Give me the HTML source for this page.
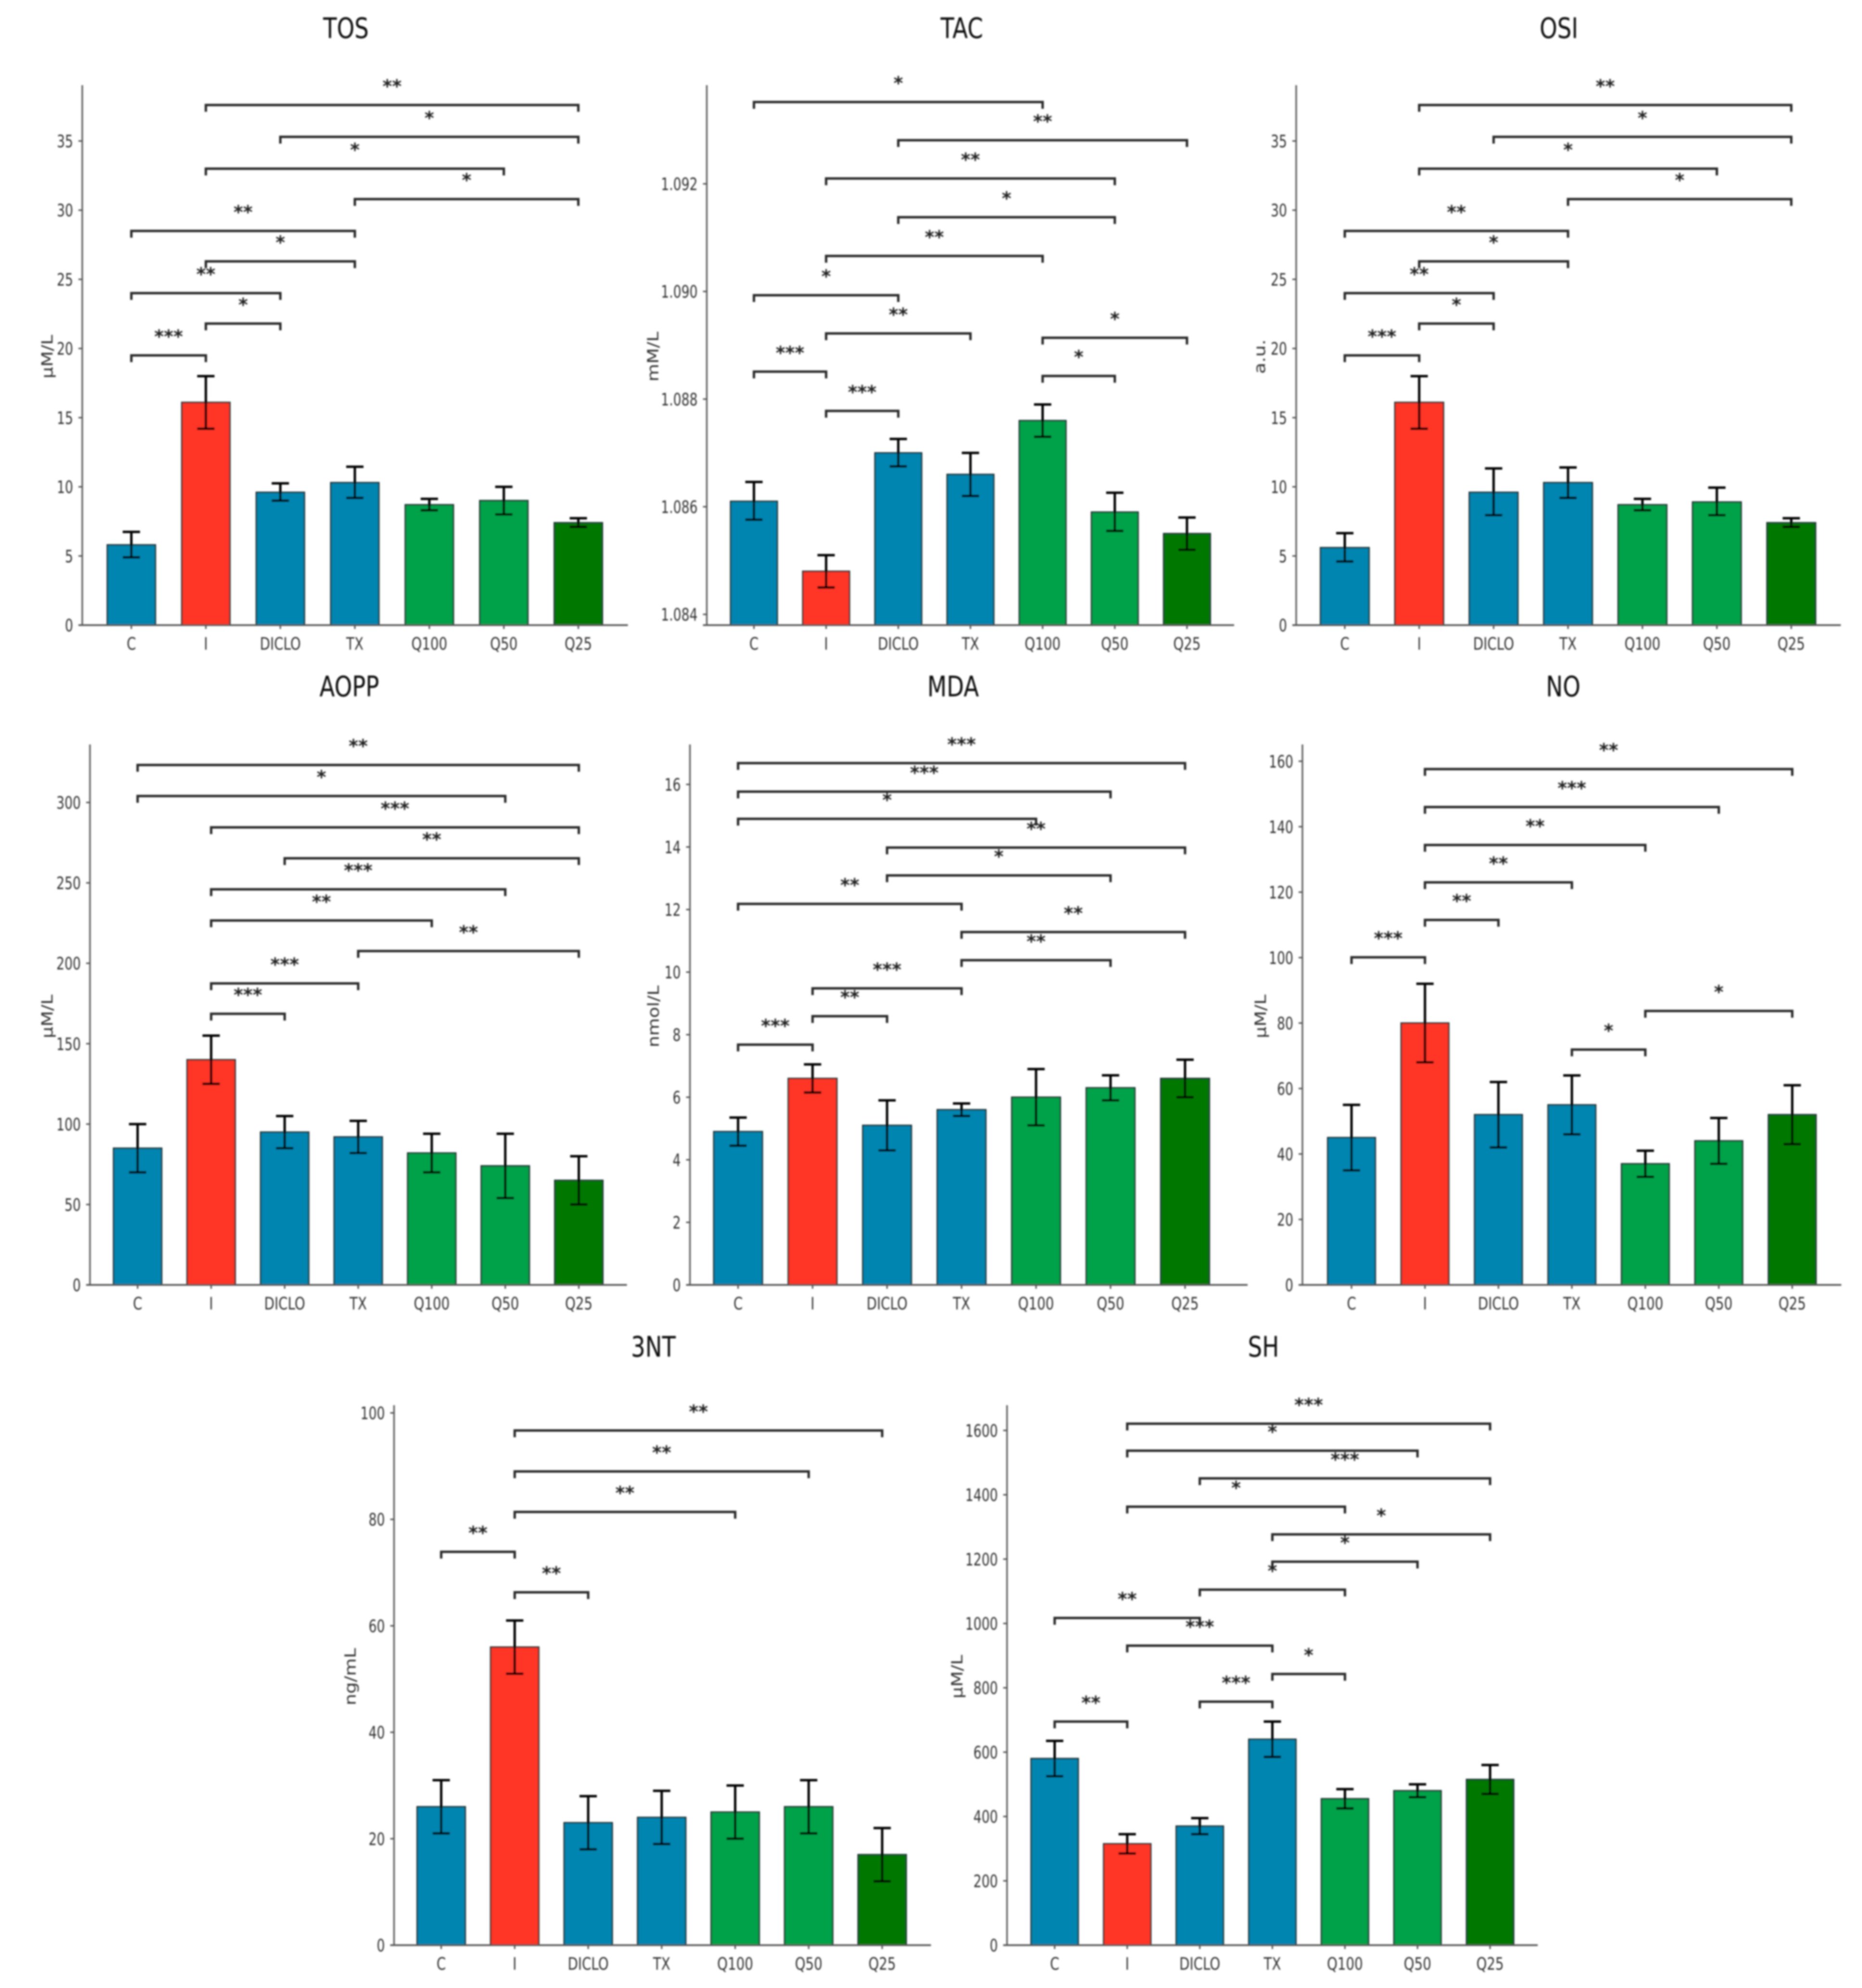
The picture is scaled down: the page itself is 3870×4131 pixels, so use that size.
<!DOCTYPE html>
<html lang="en">
<head>
<meta charset="utf-8">
<title>Oxidative stress markers by treatment group</title>
<style>
html,body{margin:0;padding:0;background:#fff;}
svg{display:block;}
text{font-family:"DejaVu Sans","Liberation Sans",sans-serif;}
</style>
</head>
<body>
<svg id="figure" xmlns="http://www.w3.org/2000/svg" width="3870" height="4131" viewBox="0 0 3870 4131">
  <defs>
    <filter id="soft" filterUnits="userSpaceOnUse" x="0" y="0" width="3870" height="4131">
      <feGaussianBlur stdDeviation="1.5"/>
    </filter>
  </defs>
  <rect x="0" y="0" width="3870" height="4131" fill="#ffffff"/>
  <g filter="url(#soft)">
    <g id="panel-tos">
      <text transform="translate(719,79) scale(.79,1)" text-anchor="middle" font-size="59" fill="#111">TOS</text>
      <text transform="translate(109,741) rotate(-90) scale(1,.85)" text-anchor="middle" font-size="38" fill="#333">µM/L</text>
    </g>
    <g id="panel-tac">
      <text transform="translate(1999,79) scale(.79,1)" text-anchor="middle" font-size="59" fill="#111">TAC</text>
      <text transform="translate(1368,741) rotate(-90) scale(1,.85)" text-anchor="middle" font-size="38" fill="#333">mM/L</text>
    </g>
    <g id="panel-osi">
      <text transform="translate(3240,79) scale(.79,1)" text-anchor="middle" font-size="59" fill="#111">OSI</text>
      <text transform="translate(2629,741) rotate(-90) scale(1,.85)" text-anchor="middle" font-size="38" fill="#333">a.u.</text>
    </g>
    <g id="panel-aopp">
      <text transform="translate(726,1447) scale(.79,1)" text-anchor="middle" font-size="59" fill="#111">AOPP</text>
      <text transform="translate(109,2112) rotate(-90) scale(1,.85)" text-anchor="middle" font-size="38" fill="#333">µM/L</text>
    </g>
    <g id="panel-mda">
      <text transform="translate(1981,1447) scale(.79,1)" text-anchor="middle" font-size="59" fill="#111">MDA</text>
      <text transform="translate(1369,2112) rotate(-90) scale(1,.85)" text-anchor="middle" font-size="38" fill="#333">nmol/L</text>
    </g>
    <g id="panel-no">
      <text transform="translate(3249,1447) scale(.79,1)" text-anchor="middle" font-size="59" fill="#111">NO</text>
      <text transform="translate(2631,2112) rotate(-90) scale(1,.85)" text-anchor="middle" font-size="38" fill="#333">µM/L</text>
    </g>
    <g id="panel-3nt">
      <text transform="translate(1358,2819) scale(.79,1)" text-anchor="middle" font-size="59" fill="#111">3NT</text>
      <text transform="translate(739,3484) rotate(-90) scale(1,.85)" text-anchor="middle" font-size="38" fill="#333">ng/mL</text>
    </g>
    <g id="panel-sh">
      <text transform="translate(2626,2819) scale(.79,1)" text-anchor="middle" font-size="59" fill="#111">SH</text>
      <text transform="translate(2000,3484) rotate(-90) scale(1,.85)" text-anchor="middle" font-size="38" fill="#333">µM/L</text>
    </g>
  </g>
</svg>
<script>
const categories = ['C','I','DICLO','TX','Q100','Q50','Q25'];

const tosValues = [5.8,16.1,9.6,10.3,8.7,9.0,7.4];
const tosUpper  = [6.74,18.0,10.25,11.45,9.13,10.0,7.73];
const tosLower  = [4.9,14.2,9.0,9.2,8.3,8.0,7.1];
const tosTicks  = ['0','5','10','15','20','25','30','35'];
const tosBrackets = [
  ['I','Q25',37.6,'**'],['DICLO','Q25',35.3,'*'],['I','Q50',33.0,'*'],['TX','Q25',30.8,'*'],
  ['C','TX',28.5,'**'],['I','TX',26.3,'*'],['C','DICLO',24.0,'**'],['I','DICLO',21.8,'*'],['C','I',19.5,'***']
];

const tacValues = [1.0861,1.0848,1.0870,1.0866,1.0876,1.0859,1.0855];
const tacUpper  = [1.08646,1.0851,1.08726,1.0870,1.0879,1.08626,1.0858];
const tacLower  = [1.08576,1.0845,1.08675,1.0862,1.0873,1.08555,1.0852];
const tacTicks  = ['1.084','1.086','1.088','1.090','1.092'];
const tacBrackets = [
  ['C','Q100',1.09352,'*'],['DICLO','Q25',1.09281,'**'],['I','Q50',1.0921,'**'],['DICLO','Q50',1.09138,'*'],
  ['I','Q100',1.09066,'**'],['C','DICLO',1.08993,'*'],['I','TX',1.08922,'**'],['Q100','Q25',1.08914,'*'],
  ['C','I',1.08851,'***'],['Q100','Q50',1.08843,'*'],['I','DICLO',1.08778,'***']
];

const osiValues = [5.6,16.1,9.6,10.3,8.7,8.9,7.4];
const osiUpper  = [6.65,18.0,11.33,11.4,9.13,9.94,7.73];
const osiLower  = [4.6,14.2,7.95,9.2,8.3,7.95,7.1];
const osiTicks  = ['0','5','10','15','20','25','30','35'];
const osiBrackets = [
  ['I','Q25',37.6,'**'],['DICLO','Q25',35.3,'*'],['I','Q50',33.0,'*'],['TX','Q25',30.8,'*'],
  ['C','TX',28.5,'**'],['I','TX',26.3,'*'],['C','DICLO',24.0,'**'],['I','DICLO',21.8,'*'],['C','I',19.5,'***']
];

const aoppValues = [85,140,95,92,82,74,65];
const aoppUpper  = [100,155,105,102,94,94,80];
const aoppLower  = [70,125,85,82,70,54,50];
const aoppTicks  = ['0','50','100','150','200','250','300'];
const aoppBrackets = [
  ['C','Q25',323.3,'**'],['C','Q50',304,'*'],['I','Q25',284.5,'***'],['DICLO','Q25',265.3,'**'],
  ['I','Q50',246,'***'],['I','Q100',226.6,'**'],['TX','Q25',207.6,'**'],['I','TX',187.5,'***'],['I','DICLO',168.6,'***']
];

const mdaValues = [4.9,6.6,5.1,5.6,6.0,6.3,6.6];
const mdaUpper  = [5.35,7.05,5.9,5.8,6.9,6.7,7.2];
const mdaLower  = [4.45,6.15,4.3,5.4,5.1,5.9,6.0];
const mdaTicks  = ['0','2','4','6','8','10','12','14','16'];
const mdaBrackets = [
  ['C','Q25',16.68,'***'],['C','Q50',15.77,'***'],['C','Q100',14.9,'*'],['DICLO','Q25',13.98,'**'],
  ['DICLO','Q50',13.09,'*'],['C','TX',12.18,'**'],['TX','Q25',11.28,'**'],['TX','Q50',10.38,'**'],
  ['I','TX',9.48,'***'],['I','DICLO',8.59,'**'],['C','I',7.68,'***']
];

const noValues = [45,80,52,55,37,44,52];
const noUpper  = [55,92,62,64,41,51,61];
const noLower  = [35,68,42,46,33,37,43];
const noTicks  = ['0','20','40','60','80','100','120','140','160'];
const noBrackets = [
  ['I','Q25',157.6,'**'],['I','Q50',146,'***'],['I','Q100',134.4,'**'],['I','TX',123,'**'],
  ['I','DICLO',111.5,'**'],['C','I',100.1,'***'],['Q100','Q25',83.7,'*'],['TX','Q100',71.9,'*']
];

const ntValues = [26,56,23,24,25,26,17];
const ntUpper  = [31,61,28,29,30,31,22];
const ntLower  = [21,51,18,19,20,21,12];
const ntTicks  = ['0','20','40','60','80','100'];
const ntBrackets = [
  ['I','Q25',96.7,'**'],['I','Q50',89,'**'],['I','Q100',81.4,'**'],['C','I',73.9,'**'],['I','DICLO',66.3,'**']
];

const shValues = [580,315,370,640,455,480,515];
const shUpper  = [635,345,395,695,485,500,560];
const shLower  = [525,285,345,585,425,460,470];
const shTicks  = ['0','200','400','600','800','1000','1200','1400','1600'];
const shBrackets = [
  ['I','Q25',1621,'***'],['I','Q50',1537,'*'],['DICLO','Q25',1451,'***'],['I','Q100',1363,'*'],
  ['TX','Q25',1277,'*'],['TX','Q50',1192,'*'],['DICLO','Q100',1105,'*'],['C','DICLO',1017,'**'],
  ['I','TX',931,'***'],['TX','Q100',843,'*'],['DICLO','TX',757,'***'],['C','I',695,'**']
];

const barPalette = ['#0085b0','#ff3527','#0085b0','#0085b0','#00a249','#00a249','#007800'];

const charts = [
  {id:'tos',  values:tosValues,  upper:tosUpper,  lower:tosLower,  ticks:tosTicks,  brackets:tosBrackets,
   left:171,  right:1305, top:177,  base:1299, first:273,  last:1202, barW:100, min:0, refValue:35, refPx:293},
  {id:'tac',  values:tacValues,  upper:tacUpper,  lower:tacLower,  ticks:tacTicks,  brackets:tacBrackets,
   left:1469, right:2565, top:177,  base:1299, first:1567, last:2467, barW:97,  min:1.0838, refValue:1.092, refPx:382},
  {id:'osi',  values:osiValues,  upper:osiUpper,  lower:osiLower,  ticks:osiTicks,  brackets:osiBrackets,
   left:2694, right:3826, top:177,  base:1299, first:2795, last:3723, barW:101, min:0, refValue:35, refPx:293},
  {id:'aopp', values:aoppValues, upper:aoppUpper, lower:aoppLower, ticks:aoppTicks, brackets:aoppBrackets,
   left:187,  right:1303, top:1547, base:2670, first:286,  last:1203, barW:100, min:0, refValue:300, refPx:1667.5},
  {id:'mda',  values:mdaValues,  upper:mdaUpper,  lower:mdaLower,  ticks:mdaTicks,  brackets:mdaBrackets,
   left:1434, right:2593, top:1547, base:2670, first:1534, last:2463, barW:101, min:0, refValue:16, refPx:1630},
  {id:'no',   values:noValues,   upper:noUpper,   lower:noLower,   ticks:noTicks,   brackets:noBrackets,
   left:2707, right:3827, top:1547, base:2670, first:2809, last:3725, barW:99,  min:0, refValue:160, refPx:1581.8},
  {id:'3nt',  values:ntValues,   upper:ntUpper,   lower:ntLower,   ticks:ntTicks,   brackets:ntBrackets,
   left:819,  right:1935, top:2920, base:4042, first:917,  last:1833.5, barW:100, min:0, refValue:100, refPx:2936},
  {id:'sh',   values:shValues,   upper:shUpper,   lower:shLower,   ticks:shTicks,   brackets:shBrackets,
   left:2093, right:3196, top:2920, base:4042, first:2192, last:3097, barW:98,  min:0, refValue:1600, refPx:2972.4}
];

const NS = 'http://www.w3.org/2000/svg';
function add(parent, tag, attrs) {
  const node = document.createElementNS(NS, tag);
  for (const key in attrs) node.setAttribute(key, attrs[key]);
  parent.appendChild(node);
  return node;
}

function drawChart(c) {
  const g = document.getElementById('panel-' + c.id);
  const xScale = function (category) {
    const i = categories.indexOf(category);
    return c.first + (c.last - c.first) * i / (categories.length - 1);
  };
  const yScale = function (v) {
    return c.base - (v - c.min) * (c.base - c.refPx) / (c.refValue - c.min);
  };

  categories.forEach(function (cat, i) {
    const cx = xScale(cat);
    const top = yScale(c.values[i]);
    const bar = add(g, 'rect', {x: cx - c.barW / 2, y: top, width: c.barW, height: c.base - top,
      fill: barPalette[i], stroke: '#1f3333', 'stroke-width': 3});
    
    
  });

  categories.forEach(function (cat, i) {
    const cx = xScale(cat);
    const yHi = yScale(c.upper[i]);
    const yLo = yScale(c.lower[i]);
    const err = add(g, 'path', {d: 'M' + (cx - 18) + ' ' + yHi + 'H' + (cx + 18) + 'M' + cx + ' ' + yHi + 'V' + yLo + 'M' + (cx - 18) + ' ' + yLo + 'H' + (cx + 18),
      fill: 'none', stroke: '#050505', 'stroke-width': 5});
    
    
  });

  const yAxis = add(g, 'line', {x1: c.left, x2: c.left, y1: c.top, y2: c.base, stroke: '#666', 'stroke-width': 3.5});
  
  
  const xAxis = add(g, 'line', {x1: c.left - 8, x2: c.right, y1: c.base, y2: c.base, stroke: '#555', 'stroke-width': 3.5});
  
  

  c.ticks.forEach(function (label) {
    const py = yScale(parseFloat(label));
    const tick = add(g, 'line', {x1: c.left - 8, x2: c.left, y1: py, y2: py, stroke: '#555', 'stroke-width': 3});
    
    
    const t = add(g, 'text', {transform: 'translate(' + (c.left - 19) + ',' + (py + 13) + ') scale(.74,1)',
      'text-anchor': 'end', 'font-size': 36, fill: '#333'});
    t.textContent = label;
    
    
  });

  categories.forEach(function (cat) {
    const cx = xScale(cat);
    const tick = add(g, 'line', {x1: cx, x2: cx, y1: c.base, y2: c.base + 8, stroke: '#555', 'stroke-width': 3});
    
    
    const t = add(g, 'text', {transform: 'translate(' + cx + ',' + (c.base + 51) + ') scale(.77,1)',
      'text-anchor': 'middle', 'font-size': 36, fill: '#333'});
    t.textContent = cat;
    
    
  });

  c.brackets.forEach(function (b) {
    const x1 = xScale(b[0]);
    const x2 = xScale(b[1]);
    const py = yScale(b[2]);
    const line = add(g, 'path', {d: 'M' + x1 + ' ' + (py + 14) + 'V' + py + 'H' + x2 + 'V' + (py + 14),
      fill: 'none', stroke: '#2a2a2a', 'stroke-width': 5});
    
    
    const star = add(g, 'text', {x: (x1 + x2) / 2, y: py - 26, 'text-anchor': 'middle', 'font-size': 38, 'font-weight': 'bold', fill: '#222'});
    star.textContent = b[3];
    
    
  });
}

charts.forEach(drawChart);
</script>
</body>
</html>
